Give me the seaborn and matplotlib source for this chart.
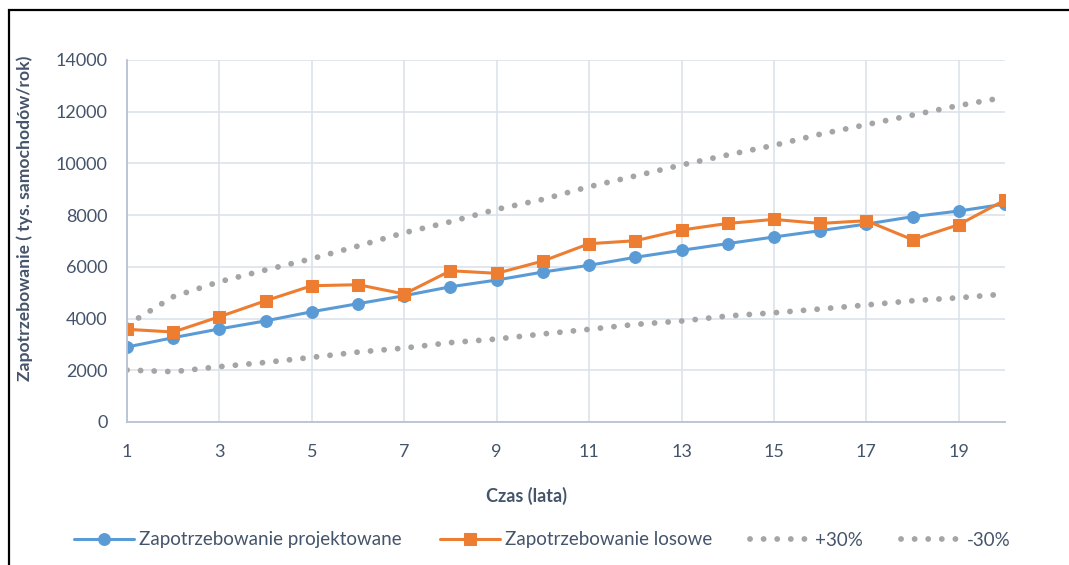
import matplotlib
matplotlib.use("Agg")
import matplotlib.pyplot as plt
import seaborn as sns
import pandas as pd
from matplotlib.patches import Rectangle

# Years of the forecast horizon
years = list(range(1, 21))

# Projected demand (thousand cars per year)
projected = [2900, 3260, 3600, 3910, 4265, 4575, 4885, 5230, 5490, 5800,
             6060, 6370, 6640, 6900, 7155, 7400, 7655, 7940, 8160, 8430]

# Random demand scenario
random_demand = [3585, 3480, 4070, 4690, 5270, 5310, 4950, 5850, 5750, 6225,
                 6895, 7010, 7425, 7680, 7835, 7680, 7785, 7050, 7630, 8585]

# Upper and lower band
upper_band = [3750, 4845, 5425, 5880, 6315, 6805, 7320, 7745, 8225, 8610,
              9100, 9515, 9940, 10330, 10700, 11130, 11500, 11870, 12240, 12560]
lower_band = [2010, 1945, 2140, 2305, 2500, 2705, 2860, 3070, 3210, 3405,
              3585, 3775, 3905, 4100, 4225, 4370, 4525, 4690, 4805, 4950]

series_names = ["Zapotrzebowanie projektowane", "Zapotrzebowanie losowe", "+30%", "-30%"]
x_ticks = [1, 3, 5, 7, 9, 11, 13, 15, 17, 19]
y_ticks = [0, 2000, 4000, 6000, 8000, 10000, 12000, 14000]

x_title = "Czas (lata)"
y_title = "Zapotrzebowanie ( tys. samochodów/rok)"

sns.set_theme(style="white")
plt.rcParams["font.family"] = ["Lato", "DejaVu Sans"]

TEXT = "#44546A"
BLUE = "#5B9BD5"
ORANGE = "#ED7D31"
GRAY = "#A5A5A5"
GRID = "#DDE2EA"

fig = plt.figure(figsize=(10.69, 5.65), dpi=100)
ax = fig.add_axes([127 / 1069, 1 - 422 / 565, 878 / 1069, 362 / 565])

df = pd.DataFrame({"year": years, "projected": projected, "random": random_demand,
                   "upper": upper_band, "lower": lower_band})

dot_style = dict(color=GRAY, linewidth=4.2, linestyle=(0, (0.01, 2.32)),
                 dash_capstyle="round")

sns.lineplot(data=df, x="year", y="upper", ax=ax, label=series_names[2], **dot_style)
sns.lineplot(data=df, x="year", y="lower", ax=ax, label=series_names[3], **dot_style)
sns.lineplot(data=df, x="year", y="projected", ax=ax, label=series_names[0],
             color=BLUE, linewidth=2.2, marker="o", markersize=8.5,
             markeredgecolor=BLUE, markerfacecolor=BLUE)
sns.lineplot(data=df, x="year", y="random", ax=ax, label=series_names[1],
             color=ORANGE, linewidth=2.2, marker="s", markersize=8.5,
             markeredgecolor=ORANGE, markerfacecolor=ORANGE)

ax.set_xlim(1, 20)
ax.set_ylim(0, 14000)
ax.set_xticks(x_ticks)
ax.set_yticks(y_ticks)
ax.grid(True, color=GRID, linewidth=1.2)
ax.set_axisbelow(True)
for side in ["top", "right"]:
    ax.spines[side].set_visible(False)
for side in ["left", "bottom"]:
    ax.spines[side].set_color("#B7C3D3")
    ax.spines[side].set_linewidth(1.3)

ax.tick_params(axis="x", length=0, pad=16, labelsize=13, labelcolor=TEXT)
ax.tick_params(axis="y", length=0, pad=14, labelsize=13, labelcolor=TEXT)

ax.set_xlabel(x_title, fontsize=13, fontweight="bold", color=TEXT)
ax.xaxis.set_label_coords((527 - 127) / 878, (422 - 487) / 362)
ax.set_ylabel(y_title, fontsize=12.6, fontweight="bold", color=TEXT)
ax.yaxis.set_label_coords((33 - 127) / 878, (422 - 218) / 362)

handles, labels = ax.get_legend_handles_labels()
order = [labels.index(n) for n in series_names]
ax.legend([handles[i] for i in order], [labels[i] for i in order],
          loc="center", bbox_to_anchor=(542 / 1069, 1 - 540 / 565),
          bbox_transform=fig.transFigure, ncol=4, frameon=False,
          fontsize=13.5, labelcolor=TEXT, handlelength=3.2, handletextpad=0.3,
          columnspacing=2.0)

# Outer frame (left and top edges visible)
fig.patches.append(Rectangle((9 / 1069, -0.05), 1.2, 1 - 10 / 565 + 0.05,
                             transform=fig.transFigure, fill=False,
                             edgecolor="black", linewidth=1.6))

fig.savefig("out.png", dpi=100)
